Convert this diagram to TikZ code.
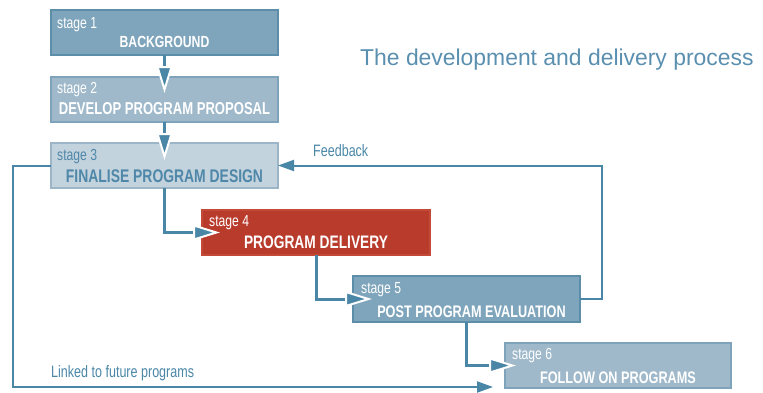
\documentclass[tikz,border=0pt]{standalone}
\usepackage{fontspec}
\setmainfont{Liberation Sans}
\newfontfamily\cond[FakeStretch=0.76]{Liberation Sans}
\usetikzlibrary{arrows.meta,calc}
\definecolor{arrowc}{HTML}{4A87A7}
\definecolor{darkfill}{HTML}{7FA5BC}
\definecolor{darkline}{HTML}{5C8EAA}
\definecolor{midfill}{HTML}{9FB9CB}
\definecolor{midline}{HTML}{7FA3BA}
\definecolor{lightfill}{HTML}{C3D3DE}
\definecolor{lightline}{HTML}{9CB6C8}
\definecolor{lighttext}{HTML}{4F87A8}
\definecolor{redfill}{HTML}{B83B2C}
\definecolor{redline}{HTML}{C24A37}
\definecolor{titlec}{HTML}{5A8FAF}
\tikzset{
  stagebox/.style={draw, line width=1.5pt, minimum width=227pt, minimum height=45pt, inner sep=0pt, outer sep=0pt, anchor=north west},
  darkbox/.style={stagebox, fill=darkfill, draw=darkline},
  midbox/.style={stagebox, fill=midfill, draw=midline},
  lightbox/.style={stagebox, fill=lightfill, draw=lightline},
  redbox/.style={stagebox, fill=redfill, draw=redline},
  stagelabel/.style={anchor=base west, inner sep=0pt, font=\cond\fontsize{16}{16}\selectfont},
  stagetitle/.style={anchor=base, inner sep=0pt},
  procarrow/.style={line width=3pt, draw=arrowc, -{Triangle[length=27pt,width=16pt,fill=arrowc,color=white,line width=2pt]}},
  sidearrow/.style={line width=2pt, draw=arrowc, -{Triangle[length=16pt,width=11pt,fill=arrowc,color=arrowc]}},
  sidelabel/.style={anchor=base west, inner sep=0pt, text=arrowc, font=\cond\fontsize{16.5}{16}\selectfont},
}
\begin{document}
\begin{tikzpicture}[x=1pt,y=-1pt]
\useasboundingbox (0,0) rectangle (763,392);
% boxes
\node[darkbox] (s1) at (51,10) {};
\node[midbox] (s2) at (51,77) {};
\node[lightbox] (s3) at (51,143) {};
\node[redbox, minimum width=228pt] (s4) at (202,210) {};
\node[darkbox, minimum height=46pt] (s5) at (353,276) {};
\node[midbox, minimum width=226pt] (s6) at (505,343) {};
% connectors
\draw[procarrow] (s1.south) -- ($(s2.north)+(0,16)$);
\draw[procarrow] (s2.south) -- ($(s3.north)+(0,17)$);
\draw[procarrow] (s3.south) |- ($(s4.west)+(18,0)$);
\draw[procarrow] (s4.south) |- ($(s5.west)+(19,0)$);
\draw[procarrow] (s5.south) |- ($(s6.west)+(11,0)$);
\draw[sidearrow] (s5.east) -- ++(22,0) |- (s3.east);
\draw[sidearrow] (s3.west) -- ++(-38,0) |- ($(s6.south west)+(-12,-1)$);
% stage labels and titles
\node[stagelabel, text=white] (l1) at ($(s1.north west)+(6,18)$) {stage 1};
\node[stagetitle, text=white, font=\cond\bfseries\fontsize{16.1}{16}\selectfont] (t1) at ($(s1.north)+(0,37)$) {BACKGROUND};
\node[stagelabel, text=white] (l2) at ($(s2.north west)+(6,16)$) {stage 2};
\node[stagetitle, text=white, font=\cond\bfseries\fontsize{17.2}{17}\selectfont] (t2) at ($(s2.north)+(0,37)$) {DEVELOP PROGRAM PROPOSAL};
\node[stagelabel, text=lighttext] (l3) at ($(s3.north west)+(6,17)$) {stage 3};
\node[stagetitle, text=lighttext, font=\cond\bfseries\fontsize{18.3}{18}\selectfont] (t3) at ($(s3.north)+(0,39)$) {FINALISE PROGRAM DESIGN};
\node[stagelabel, text=white] (l4) at ($(s4.north west)+(7,16)$) {stage 4};
\node[stagetitle, text=white, font=\cond\bfseries\fontsize{18.1}{18}\selectfont] (t4) at ($(s4.north)+(0,38)$) {PROGRAM DELIVERY};
\node[stagelabel, text=white] (l5) at ($(s5.north west)+(8,17)$) {stage 5};
\node[stagetitle, text=white, font=\cond\bfseries\fontsize{16.7}{17}\selectfont] (t5) at ($(s5.north)+(5,41)$) {POST PROGRAM EVALUATION};
\node[stagelabel, text=white] (l6) at ($(s6.north west)+(7,16)$) {stage 6};
\node[stagetitle, text=white, font=\cond\bfseries\fontsize{16.7}{17}\selectfont] (t6) at ($(s6.north)+(0,40)$) {FOLLOW ON PROGRAMS};
% side labels
\node[sidelabel] (fb) at (313,156) {Feedback};
\node[sidelabel] (lk) at (51,377) {Linked to future programs};
% title
\node[anchor=base west, inner sep=0pt, text=titlec, font=\fontsize{22.9}{24}\selectfont] (title) at (360,65) {The development and delivery process};
\end{tikzpicture}
\end{document}
